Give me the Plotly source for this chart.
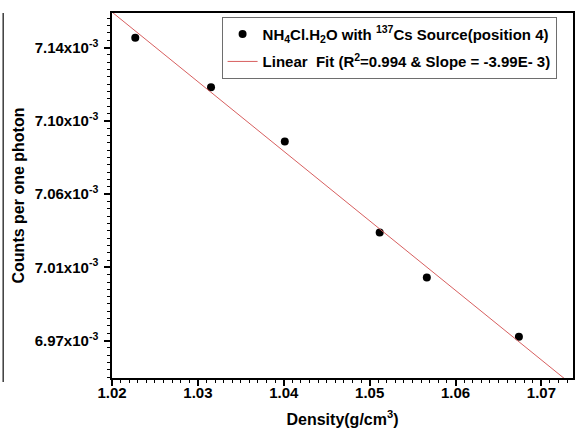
import numpy as np
import plotly.graph_objects as go

# Data
density = [1.02271, 1.03153, 1.04012, 1.05117, 1.05666, 1.06738]
counts = [7.14580e-3, 7.11699e-3, 7.08551e-3, 7.03275e-3, 7.00667e-3, 6.97223e-3]

x_tickvals = [1.02, 1.03, 1.04, 1.05, 1.06, 1.07]
x_ticktext = ["1.02", "1.03", "1.04", "1.05", "1.06", "1.07"]
y_tickvals = [6.97e-3, 7.0125e-3, 7.055e-3, 7.0975e-3, 7.14e-3]
y_ticktext = ["6.97x10<sup>-3</sup>", "7.01x10<sup>-3</sup>", "7.06x10<sup>-3</sup>",
              "7.10x10<sup>-3</sup>", "7.14x10<sup>-3</sup>"]

x_range = [1.02, 1.07368]
y_range = [6.9483e-3, 7.1601e-3]

slope, intercept = np.polyfit(density, counts, 1)
fit_x = np.array(x_range)
fit_y = slope * fit_x + intercept

FONT = "Arial, Liberation Sans, sans-serif"

fig = go.Figure()
fig.add_trace(go.Scatter(
    x=density, y=counts, mode="markers",
    marker=dict(color="black", size=8),
    legendgroup="data",
    name="NH<sub>4</sub>Cl.H<sub>2</sub>O with <sup>137</sup>Cs Source(position 4)",
))
fig.add_trace(go.Scatter(
    x=fit_x, y=fit_y, mode="lines",
    line=dict(color="rgb(215,95,95)", width=1),
    legendgroup="fit",
    name="Linear  Fit (R<sup>2</sup>=0.994 & Slope = -3.99E- 3)",
))

fig.update_layout(
    width=577, height=437,
    margin=dict(l=112, r=2, t=13, b=59),
    paper_bgcolor="white", plot_bgcolor="white",
    font=dict(family=FONT, color="black", size=15, weight="bold"),
    showlegend=True,
    legend=dict(
        x=0.2377, y=0.9899, xanchor="left", yanchor="top",
        bordercolor="rgb(110,110,110)", borderwidth=1,
        bgcolor="white",
        font=dict(family=FONT, size=15, weight="bold"),
        itemwidth=30,
        tracegroupgap=5,
        entrywidth=310,
    ),
    xaxis=dict(
        range=x_range, tickmode="array", tickvals=x_tickvals, ticktext=x_ticktext,
        showline=True, linecolor="black", linewidth=1.5, mirror=True,
        ticks="outside", ticklen=6, tickwidth=1.5, tickcolor="black",
        minor=dict(ticks="outside", dtick=0.001, tick0=1.02, ticklen=3, tickwidth=1, tickcolor="black"),
        showgrid=False, zeroline=False,
        tickfont=dict(size=15, weight="bold"),
        ticklabelstandoff=-6,
        title=dict(text="Density(g/cm<sup>3</sup>)", font=dict(size=16, weight="bold"), standoff=14),
    ),
    yaxis=dict(
        range=y_range, tickmode="array", tickvals=y_tickvals, ticktext=y_ticktext,
        showline=True, linecolor="black", linewidth=1.5, mirror=True,
        ticks="outside", ticklen=6, tickwidth=1.5, tickcolor="black",
        minor=dict(ticks="outside", tick0=6.97e-3, dtick=0.00425e-3, ticklen=3, tickwidth=1, tickcolor="black"),
        showgrid=False, zeroline=False,
        tickfont=dict(size=15, weight="bold"),
        ticklabelstandoff=3,
        title=dict(text="Counts per one photon", font=dict(size=16, weight="bold"), standoff=6),
    ),
)

# cropped border of a neighbouring panel at the left edge
fig.add_shape(type="line", xref="paper", yref="paper",
              x0=-0.236, x1=-0.236, y0=1.0, y1=-0.011,
              line=dict(color="rgb(60,60,60)", width=1.5))

fig.write_html("out.html")
